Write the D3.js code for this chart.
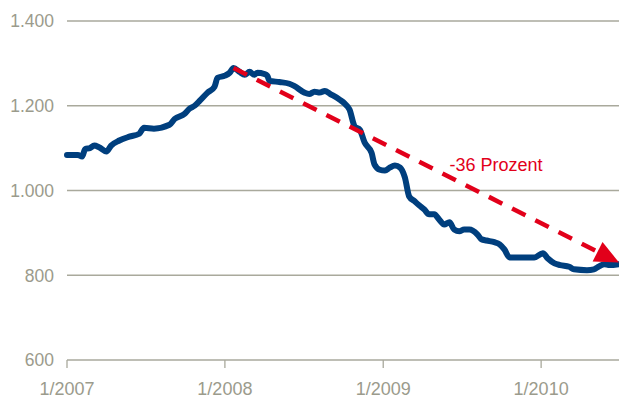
<!DOCTYPE html>
<html>
<head>
<meta charset="utf-8">
<script src="https://cdn.jsdelivr.net/npm/d3@7"></script>
<style>
	body{margin:0;background:#fff;}
	svg{display:block;}
	.lbl{font-family:"Liberation Sans",Arial,Helvetica,sans-serif;fill:#9b9b8c;}
</style>
</head>
<body>
<div id="chart"></div>
<script>
// index values (date, points)
var dates = ['2007-01-01','2007-01-26','2007-02-05','2007-02-12','2007-02-23','2007-03-05','2007-03-16','2007-04-02','2007-04-13','2007-05-02',
	'2007-05-25','2007-06-17','2007-06-28','2007-07-21','2007-08-26','2007-09-07','2007-09-30','2007-10-11','2007-10-23','2007-11-04',
	'2007-11-22','2007-12-08','2007-12-15','2008-01-01','2008-01-12','2008-01-21','2008-02-04','2008-02-16','2008-02-27','2008-03-09',
	'2008-03-16','2008-04-01','2008-04-08','2008-04-13','2008-05-06','2008-05-29','2008-06-09','2008-07-03','2008-07-14','2008-07-26',
	'2008-08-07','2008-08-19','2008-08-31','2008-09-23','2008-10-04','2008-10-15','2008-10-27','2008-11-08','2008-11-19','2008-12-05',
	'2008-12-12','2008-12-24','2009-01-05','2009-01-16','2009-01-28','2009-02-09','2009-02-20','2009-03-02','2009-03-14','2009-03-25',
	'2009-04-06','2009-04-17','2009-04-29','2009-05-10','2009-05-22','2009-06-03','2009-06-14','2009-06-26','2009-07-07','2009-07-19',
	'2009-08-07','2009-08-16','2009-08-28','2009-09-15','2009-09-27','2009-10-08','2009-10-20','2009-12-16','2010-01-05','2010-01-16',
	'2010-02-01','2010-02-14','2010-03-07','2010-03-18','2010-04-17','2010-05-03','2010-05-15','2010-05-27','2010-06-08','2010-06-29'];
var values = [1084,1084,1080,1098,1100,1106,1102,1092,1106,1118,
	1127,1134,1148,1146,1155,1169,1181,1193,1200,1212,
	1231,1245,1266,1271,1278,1289,1280,1273,1280,1273,
	1278,1275,1271,1259,1256,1252,1247,1231,1228,1233,
	1231,1235,1228,1214,1205,1191,1151,1143,1113,1089,
	1061,1049,1047,1054,1059,1054,1031,986,975,965,
	955,944,944,932,920,925,908,904,908,908,
	896,885,882,878,873,861,842,842,852,840,
	828,824,820,814,812,814,821,826,824,826];
var yTicks = [600,800,1000,1200,1400];
var xTicks = ['2007-01-01','2008-01-01','2009-01-01','2010-01-01'];
var trendFrom = ['2008-01-21',1289];
var trendTo = ['2010-06-30',830];
var trendLabel = '-36 Prozent';
var labelAt = ['2009-06-03',1047];

var W = 619, H = 401;
var parse = d3.timeParse('%Y-%m-%d');
var fmtY = function(v){return d3.format(',')(v).replace(',', '.');};
var fmtX = d3.timeFormat('%-m/%Y');
var red = '#e2001a';

var svg = d3.select('#chart').append('svg')
	.attr('width',W).attr('height',H);

var x = d3.scaleTime()
	.domain([parse('2007-01-01'),parse('2010-06-30')])
	.range([67,619]);
var y = d3.scaleLinear()
	.domain([600,1400])
	.range([360,21]);

// gridlines
svg.selectAll('.gridline')
	.data(yTicks).enter()
	.append('line')
		.attr('class','gridline')
		.attr('x1',67).attr('x2',W)
		.attr('y1',function(d){return y(d);})
		.attr('y2',function(d){return y(d);})
		.attr('stroke','#a9a99c')
		.attr('stroke-width',1.3);

svg.selectAll('.ylbl')
	.data(yTicks).enter()
	.append('text')
		.attr('class','lbl ylbl')
		.attr('x',54)
		.attr('y',function(d){return y(d);})
		.attr('dy','0.36em')
		.attr('text-anchor','end')
		.style('font-size','17.5px')
		.text(fmtY);

// x ticks
svg.selectAll('.xtick')
	.data(xTicks).enter()
	.append('line')
		.attr('class','xtick')
		.attr('x1',function(d){return x(parse(d));})
		.attr('x2',function(d){return x(parse(d));})
		.attr('y1',360).attr('y2',368)
		.attr('stroke','#a9a99c')
		.attr('stroke-width',1.3);

svg.selectAll('.xlbl')
	.data(xTicks).enter()
	.append('text')
		.attr('class','lbl xlbl')
		.attr('x',function(d){return x(parse(d));})
		.attr('y',395)
		.attr('text-anchor','middle')
		.style('font-size','18px')
		.text(function(d){return fmtX(parse(d));});

// index line
var series = dates.map(function(d,i){return {date:parse(d),value:values[i]};});
var line = d3.line()
	.x(function(d){return x(d.date);})
	.y(function(d){return y(d.value);})
	.curve(d3.curveMonotoneX);

svg.append('path')
	.datum(series)
	.attr('d',line)
	.attr('fill','none')
	.attr('stroke','#003f7e')
	.attr('stroke-width',6)
	.attr('stroke-linejoin','round')
	.attr('stroke-linecap','round');

// trend arrow: dashed shaft + filled head
var x1 = x(parse(trendFrom[0])), y1 = y(trendFrom[1]);
var x2 = x(parse(trendTo[0])), y2 = y(trendTo[1]);
var len = Math.sqrt((x2-x1)*(x2-x1)+(y2-y1)*(y2-y1));
var ux = (x2-x1)/len, uy = (y2-y1)/len;
var headL = 24, headW = 11;
var bx = x2-ux*headL, by = y2-uy*headL;

svg.append('line')
	.attr('x1',x1).attr('y1',y1)
	.attr('x2',bx+ux*2).attr('y2',by+uy*2)
	.attr('stroke',red)
	.attr('stroke-width',4.5)
	.attr('stroke-dasharray','15,11');

svg.append('path')
	.attr('d','M'+x2+','+y2+'L'+(bx-uy*headW)+','+(by+ux*headW)+'L'+(bx+uy*headW)+','+(by-ux*headW)+'Z')
	.attr('fill',red);

svg.append('text')
	.attr('x',x(parse(labelAt[0])))
	.attr('y',y(labelAt[1]))
	.attr('fill',red)
	.style('font-family','"Liberation Sans",Arial,Helvetica,sans-serif')
	.style('font-size','18px')
	.text(trendLabel);
</script>
</body>
</html>
